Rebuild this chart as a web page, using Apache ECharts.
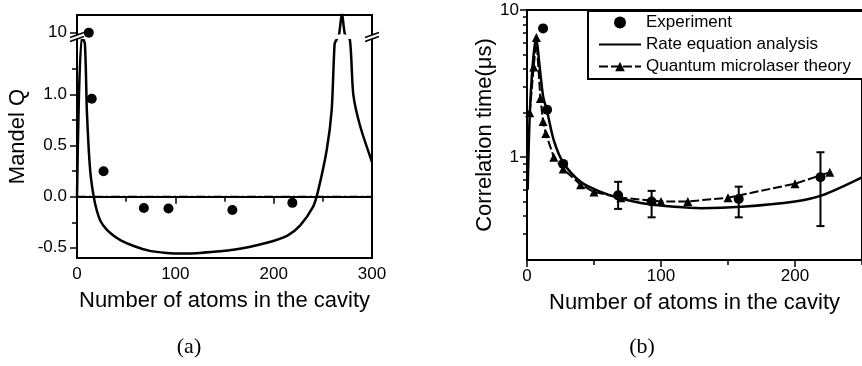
<!DOCTYPE html>
<html>
<head>
<meta charset="utf-8">
<script src="https://cdn.jsdelivr.net/npm/echarts@6/dist/echarts.min.js"></script>
<style>
  html, body { margin: 0; padding: 0; background: #fff; }
  #chart { width: 862px; height: 366px; }
</style>
</head>
<body>
<div id="chart"></div>
<script>
// (a) Mandel Q vs number of atoms
const qExpN = [12, 15, 27, 68, 93, 158, 219];
const qExpVal = [10, 0.96, 0.25, -0.11, -0.115, -0.13, -0.06];
const qTheoryN = [0, 2, 5, 8, 10, 12, 14, 17, 20, 24, 30, 37, 45, 57, 74, 91, 108, 125, 159, 193, 214, 227, 240, 245, 254, 259, 262, 264, 266.5, 269.5, 272.5, 277.5, 281, 288, 300];
const qTheoryVal = [0, 1.0, 5, 1.5, 0.85, 0.45, 0.2, 0.0, -0.13, -0.24, -0.32, -0.38, -0.43, -0.48, -0.53, -0.55, -0.555, -0.55, -0.52, -0.45, -0.38, -0.28, -0.1, 0.05, 0.46, 0.85, 1.5, 3, 7.4, 300, 7.4, 3, 1.0, 0.69, 0.34];
const qMajorTicks = [-0.5, 0, 0.5, 1.0, 10];
const qMinorTicks = [-0.25, 0.25, 0.75, 1.25];

// (b) correlation time vs number of atoms
const ctExpN = [12, 15, 27, 68, 93, 158, 219];
const ctExpVal = [7.5, 2.1, 0.9, 0.55, 0.5, 0.52, 0.73];
const ctErrLow = [null, null, null, 0.445, 0.39, 0.39, 0.34];
const ctErrHigh = [null, null, null, 0.68, 0.59, 0.63, 1.08];
const rateN = [0.5, 2, 4, 6, 7, 9, 12, 15, 20, 27, 40, 55, 68, 90, 110, 130, 160, 200, 220, 250];
const rateVal = [0.6, 1.9, 4.0, 6.0, 6.3, 4.5, 2.6, 2.05, 1.3, 0.92, 0.68, 0.58, 0.53, 0.48, 0.46, 0.45, 0.46, 0.5, 0.55, 0.73];
const quantN = [2, 5, 7, 10, 12, 14, 20, 27, 40, 50, 70, 100, 120, 150, 200, 226];
const quantVal = [2.0, 4.1, 6.5, 2.5, 1.75, 1.45, 1.0, 0.83, 0.65, 0.58, 0.53, 0.5, 0.5, 0.53, 0.66, 0.79];
const ctMajorTicks = [1, 10];
const ctMinorTicks = [0.3, 0.4, 0.5, 0.6, 0.7, 0.8, 0.9, 2, 3, 4, 5, 6, 7, 8, 9];
const nMajorTicks = [0, 100, 200, 300];
const nMinorTicks = [50, 150, 250];

// broken y axis of (a): linear up to 1.5, compressed log part above
function qDisplay(q) {
  return q <= 1.5 ? q : 1.5 + 0.13 * Math.log10(q / 1.5);
}

const FONT = 'Liberation Sans';
const black = '#000';

const chart = echarts.init(document.getElementById('chart'));

const axisText = { color: black, fontFamily: FONT, fontSize: 17 };
const nameText = { color: black, fontFamily: FONT, fontSize: 22 };

function mainX(grid, max, name) {
  return {
    type: 'value', gridIndex: grid, position: 'bottom', min: 0, max: max,
    name: name, nameLocation: 'middle', nameGap: 32, nameTextStyle: nameText,
    axisLine: { show: true, lineStyle: { color: black, width: 2 } },
    axisTick: { show: true, length: 7, lineStyle: { color: black, width: 1.5 }, customValues: nMajorTicks.filter(v => v <= max) },
    axisLabel: { show: true, margin: 8, customValues: nMajorTicks.filter(v => v <= max), ...axisText },
    splitLine: { show: false }
  };
}
function minorX(grid, max) {
  return {
    type: 'value', gridIndex: grid, position: 'bottom', min: 0, max: max,
    axisLine: { show: false },
    axisTick: { show: true, length: 5, lineStyle: { color: black, width: 1.5 }, customValues: nMinorTicks.filter(v => v <= max) },
    axisLabel: { show: false },
    splitLine: { show: false }
  };
}

const option = {
  backgroundColor: '#fff',
  animation: false,
  title: [
    { text: '(a)', left: 184, top: 331, textAlign: 'center', textStyle: { fontFamily: 'Liberation Serif', fontSize: 22, fontWeight: 'normal', color: black } },
    { text: '(b)', left: 637, top: 331, textAlign: 'center', textStyle: { fontFamily: 'Liberation Serif', fontSize: 22, fontWeight: 'normal', color: black } }
  ],
  grid: [
    { left: 77, top: 15, width: 295, height: 243, show: true, borderColor: black, borderWidth: 2, backgroundColor: 'transparent' },
    { left: 527, top: 10, width: 337, height: 250, show: true, borderColor: black, borderWidth: 2, backgroundColor: 'transparent' }
  ],
  legend: {
    data: [
      { name: 'Experiment' },
      { name: 'Rate equation analysis', itemStyle: { opacity: 0 } },
      { name: 'Quantum microlaser theory' }
    ],
    orient: 'vertical',
    left: 588, top: 11,
    itemWidth: 42, itemHeight: 12, itemGap: 5,
    padding: [3, 40, 4, 10],
    borderColor: black, borderWidth: 2, borderRadius: 0,
    backgroundColor: '#fff',
    textStyle: { color: black, fontFamily: FONT, fontSize: 17 },
    z: 10
  },
  xAxis: [
    mainX(0, 300, 'Number of atoms in the cavity'),
    minorX(0, 300),
    mainX(1, 250, 'Number of atoms in the cavity'),
    minorX(1, 250)
  ],
  yAxis: [
    {
      type: 'value', gridIndex: 0, position: 'left', min: -0.6, max: 1.78,
      name: 'Mandel Q', nameLocation: 'middle', nameGap: 48, nameTextStyle: nameText,
      axisLine: { show: true, lineStyle: { color: black, width: 2 } },
      axisTick: { show: true, length: 7, lineStyle: { color: black, width: 1.5 }, customValues: qMajorTicks.map(qDisplay) },
      axisLabel: {
        show: true, margin: 10, ...axisText,
        customValues: qMajorTicks.map(qDisplay),
        formatter: v => (v > 1.5 ? '10' : v.toFixed(1))
      },
      splitLine: { show: false }
    },
    {
      type: 'value', gridIndex: 0, position: 'left', min: -0.6, max: 1.78,
      axisLine: { show: false },
      axisTick: { show: true, length: 5, lineStyle: { color: black, width: 1.5 }, customValues: qMinorTicks },
      axisLabel: { show: false },
      splitLine: { show: false }
    },
    {
      type: 'log', logBase: 10, gridIndex: 1, position: 'left', min: 0.2, max: 10,
      name: 'Correlation time(μs)', nameLocation: 'middle', nameGap: 30, nameTextStyle: nameText,
      axisLine: { show: true, lineStyle: { color: black, width: 2 } },
      axisTick: { show: true, length: 7, lineStyle: { color: black, width: 1.5 }, customValues: ctMajorTicks },
      axisLabel: { show: true, margin: 8, ...axisText, customValues: ctMajorTicks },
      splitLine: { show: false }
    },
    {
      type: 'log', logBase: 10, gridIndex: 1, position: 'left', min: 0.2, max: 10,
      axisLine: { show: false },
      axisTick: { show: true, length: 4, lineStyle: { color: black, width: 1.5 }, customValues: ctMinorTicks },
      axisLabel: { show: false },
      splitLine: { show: false }
    }
  ],
  series: [
    {
      name: 'Mandel Q theory', type: 'line', xAxisIndex: 0, yAxisIndex: 0,
      data: qTheoryN.map((n, i) => [n, qDisplay(qTheoryVal[i])]),
      showSymbol: false, symbol: 'none', smooth: 0.25, clip: true,
      lineStyle: { color: black, width: 2.5 },
      markLine: {
        silent: true, symbol: 'none', label: { show: false },
        lineStyle: { color: black, width: 1.3, type: [9, 3, 2, 3] },
        data: [{ yAxis: 0 }]
      }
    },
    {
      name: 'Mandel Q experiment', type: 'scatter', xAxisIndex: 0, yAxisIndex: 0,
      data: qExpN.map((n, i) => [n, qDisplay(qExpVal[i])]),
      symbol: 'circle', symbolSize: 10,
      itemStyle: { color: black, opacity: 1 },
      z: 20
    },
    {
      name: 'Rate equation analysis', type: 'line', xAxisIndex: 2, yAxisIndex: 2,
      data: rateN.map((n, i) => [n, rateVal[i]]),
      showSymbol: false, symbol: 'none', smooth: 0.3,
      lineStyle: { color: black, width: 2.5 },
      itemStyle: { color: black }
    },
    {
      name: 'Quantum microlaser theory', type: 'line', xAxisIndex: 2, yAxisIndex: 2,
      data: quantN.map((n, i) => [n, quantVal[i]]),
      symbol: 'triangle', symbolSize: 9, showSymbol: true,
      lineStyle: { color: black, width: 2, type: [9, 3] },
      itemStyle: { color: black, opacity: 1 }
    },
    {
      name: 'Experiment error', type: 'custom', xAxisIndex: 2, yAxisIndex: 2,
      data: ctExpN.map((n, i) => [n, ctErrLow[i], ctErrHigh[i]]).filter(d => d[1] !== null),
      encode: { x: 0, y: [1, 2] },
      renderItem: function (params, api) {
        const x = api.value(0);
        const lo = api.coord([x, api.value(1)]);
        const hi = api.coord([x, api.value(2)]);
        const w = 4;
        const style = { stroke: black, lineWidth: 2 };
        return {
          type: 'group',
          children: [
            { type: 'line', shape: { x1: lo[0], y1: lo[1], x2: hi[0], y2: hi[1] }, style: style },
            { type: 'line', shape: { x1: lo[0] - w, y1: lo[1], x2: lo[0] + w, y2: lo[1] }, style: style },
            { type: 'line', shape: { x1: hi[0] - w, y1: hi[1], x2: hi[0] + w, y2: hi[1] }, style: style }
          ]
        };
      },
      z: 3
    },
    {
      name: 'Experiment', type: 'scatter', xAxisIndex: 2, yAxisIndex: 2,
      data: ctExpN.map((n, i) => [n, ctExpVal[i]]),
      symbol: 'circle', symbolSize: 10,
      itemStyle: { color: black, opacity: 1 },
      z: 4
    }
  ]
};

chart.setOption(option);

// axis break of (a): white gap across the plot and "//" marks on both vertical edges
function breakMark(p) {
  const x = p[0], y = p[1];
  const st = { stroke: black, lineWidth: 1.5 };
  return [
    { type: 'polygon', shape: { points: [[x - 7, y + 4], [x + 7, y - 1], [x + 7, y - 5], [x - 7, y]] }, style: { fill: '#fff' }, z: 100 },
    { type: 'line', shape: { x1: x - 7, y1: y + 4, x2: x + 7, y2: y - 1 }, style: st, z: 101 },
    { type: 'line', shape: { x1: x - 7, y1: y, x2: x + 7, y2: y - 5 }, style: st, z: 101 }
  ];
}
const breakY = 1.56;
const leftBreak = chart.convertToPixel({ xAxisIndex: 0, yAxisIndex: 0 }, [0, breakY]);
const rightBreak = chart.convertToPixel({ xAxisIndex: 0, yAxisIndex: 0 }, [300, breakY]);
const gapTop = chart.convertToPixel({ xAxisIndex: 0, yAxisIndex: 0 }, [0, 1.59]);
const gapBottom = chart.convertToPixel({ xAxisIndex: 0, yAxisIndex: 0 }, [300, 1.545]);
const gapBand = {
  type: 'rect',
  shape: { x: gapTop[0] + 2, y: gapTop[1], width: gapBottom[0] - gapTop[0] - 4, height: gapBottom[1] - gapTop[1] },
  style: { fill: '#fff' },
  z: 10
};
chart.setOption({ graphic: [gapBand].concat(breakMark(leftBreak), breakMark(rightBreak)) });
</script>
</body>
</html>
